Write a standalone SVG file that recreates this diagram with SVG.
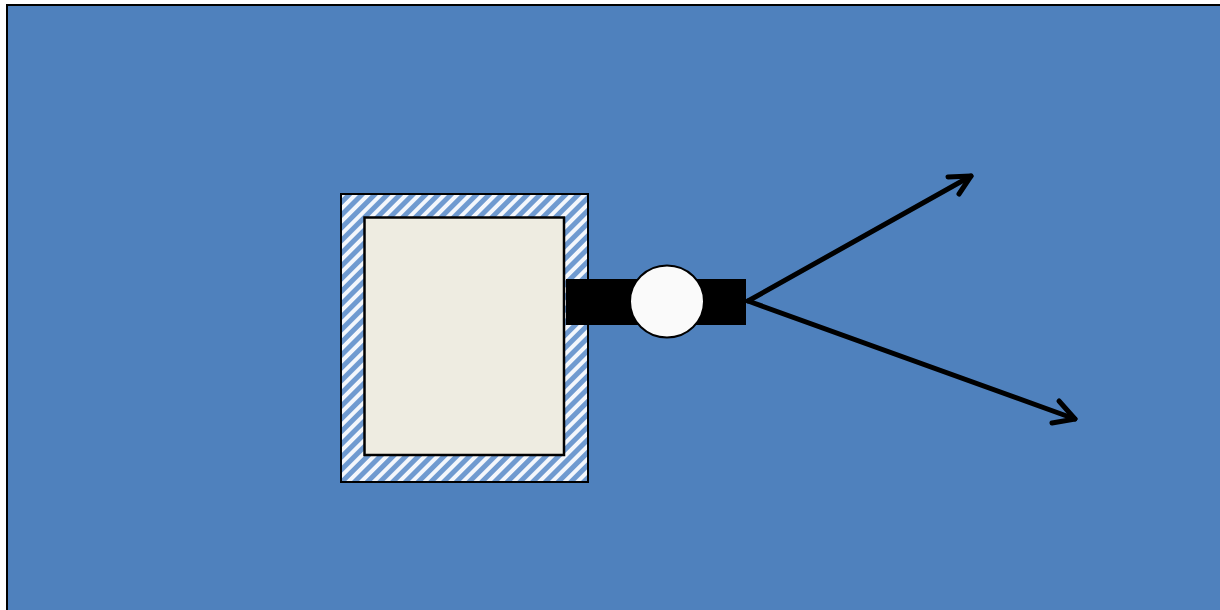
<svg xmlns="http://www.w3.org/2000/svg" width="1220" height="610" viewBox="0 0 1220 610">
<style>
.arrow{fill:none;stroke:#000;stroke-width:5;stroke-linecap:round;stroke-linejoin:round}
</style>
<defs>
<pattern id="hatch" patternUnits="userSpaceOnUse" width="9" height="9" patternTransform="rotate(-45)">
<rect width="9" height="9" fill="#6F9AD0"/>
<rect width="9" height="4" fill="#F4F7FC"/>
</pattern>
</defs>
<rect x="0" y="0" width="1220" height="610" fill="#FFFFFF"/>
<rect id="background" x="7" y="5" width="1220" height="610" fill="#4F81BD" stroke="#000" stroke-width="2"/>
<g id="frame">
<rect x="341" y="194" width="247" height="288" fill="url(#hatch)" stroke="#000" stroke-width="2"/>
<rect x="364.5" y="217.5" width="199.5" height="237.5" fill="#EEECE1" stroke="#000" stroke-width="2.5"/>
</g>
<g id="bar">
<rect x="566" y="279" width="180" height="46" fill="#000"/>
</g>
<g id="circle">
<ellipse cx="667" cy="301.5" rx="37" ry="36" fill="#FAFAFA" stroke="#000" stroke-width="2"/>
</g>
<g id="connectors">
<path class="arrow" d="M748 301 L971 176"/>
<path class="arrow" d="M948 177 L971 176 L959 194"/>
<path class="arrow" d="M748 301 L1075 419"/>
<path class="arrow" d="M1059 401 L1075 419 L1052 423"/>
</g>
</svg>
